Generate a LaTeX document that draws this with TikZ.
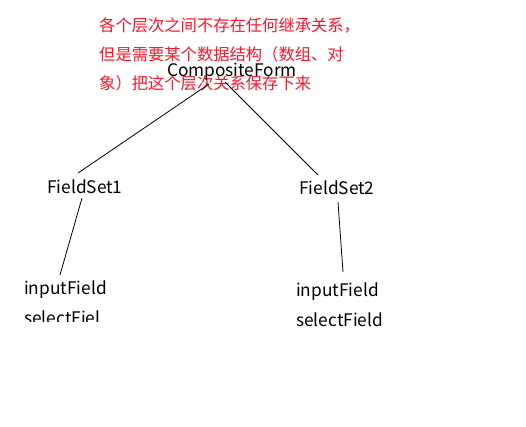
\documentclass[tikz,border=0pt]{standalone}
\usepackage{fontspec}
\setmainfont{Noto Sans CJK SC}
\definecolor{notered}{RGB}{255,20,40}
\begin{document}
\begin{tikzpicture}[x=1pt,y=-1pt,
  lbl/.style={inner sep=0pt,anchor=west,font=\fontsize{17.3}{19}\selectfont},
  note/.style={inner sep=0pt,anchor=west,text=notered,font=\fontsize{16.3}{18}\selectfont},
  conn/.style={draw=black,line width=0.8pt}]
\useasboundingbox (0,0) rectangle (526,426);
\fill[white] (0,0) rectangle (526,426);
\node[note] (n1) at (99,25) {各个层次之间不存在任何继承关系，};
\node[note] (n2) at (99,54) {但是需要某个数据结构（数组、对};
\node[note] (n3) at (99,83) {象）把这个层次关系保存下来};
\node[lbl,anchor=center] (cf) at (232,72) {CompositeForm};
\node[lbl] (fs1) at (47,187) {FieldSet1};
\node[lbl] (fs2) at (299,188) {FieldSet2};
\node[lbl] (if1) at (24,290) {inputField};
\begin{scope}
\clip (0,0) rectangle (526,321.5);
\node[lbl] (sf1) at (24,318) {selectFiel};
\end{scope}
\node[lbl] (if2) at (296,292) {inputField};
\node[lbl] (sf2) at (296,320) {selectField};
\coordinate (cfl) at (209,84);
\coordinate (cfr) at (225,82);
\coordinate (fs1t) at (78,173);
\coordinate (fs2t) at (318,175);
\coordinate (fs1b) at (82,198);
\coordinate (if1t) at (60,275);
\coordinate (fs2b) at (338,202);
\coordinate (if2t) at (343,272);
\draw[conn] (cfl) -- (fs1t);
\draw[conn] (cfr) -- (fs2t);
\draw[conn] (fs1b) -- (if1t);
\draw[conn] (fs2b) -- (if2t);
\end{tikzpicture}
\end{document}
